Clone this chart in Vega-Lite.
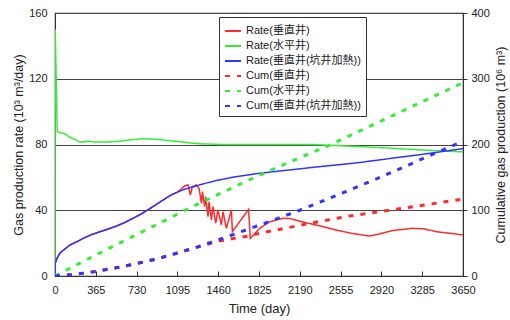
{
  "$schema": "https://vega.github.io/schema/vega-lite/v6.json",
  "width": 408,
  "height": 263,
  "autosize": {"type": "none"},
  "padding": {"left": 55, "top": 13, "right": 47, "bottom": 44},
  "background": "white",
  "config": {
    "font": "Liberation Sans",
    "view": {"stroke": "#333", "strokeWidth": 1.2},
    "axis": {
      "labelFont": "Liberation Sans",
      "labelFontSize": 11,
      "labelColor": "#222",
      "titleFont": "Liberation Sans",
      "titleFontSize": 12.5,
      "titleFontWeight": "normal",
      "titleColor": "#222",
      "domainColor": "#333",
      "tickColor": "#333"
    }
  },
  "datasets": {
    "rate": [
      {"t": 0, "v": 0, "s": "Rate(垂直井)"},
      {"t": 3, "v": 8, "s": "Rate(垂直井)"},
      {"t": 20, "v": 11, "s": "Rate(垂直井)"},
      {"t": 45, "v": 14, "s": "Rate(垂直井)"},
      {"t": 90, "v": 16.5, "s": "Rate(垂直井)"},
      {"t": 134, "v": 18.9, "s": "Rate(垂直井)"},
      {"t": 200, "v": 21, "s": "Rate(垂直井)"},
      {"t": 253, "v": 22.9, "s": "Rate(垂直井)"},
      {"t": 320, "v": 25, "s": "Rate(垂直井)"},
      {"t": 401, "v": 26.9, "s": "Rate(垂直井)"},
      {"t": 480, "v": 28.7, "s": "Rate(垂直井)"},
      {"t": 550, "v": 30.4, "s": "Rate(垂直井)"},
      {"t": 620, "v": 32.4, "s": "Rate(垂直井)"},
      {"t": 698, "v": 35.1, "s": "Rate(垂直井)"},
      {"t": 760, "v": 37.3, "s": "Rate(垂直井)"},
      {"t": 818, "v": 39.7, "s": "Rate(垂直井)"},
      {"t": 890, "v": 42.8, "s": "Rate(垂直井)"},
      {"t": 966, "v": 46.2, "s": "Rate(垂直井)"},
      {"t": 1040, "v": 49.3, "s": "Rate(垂直井)"},
      {"t": 1095, "v": 51, "s": "Rate(垂直井)"},
      {"t": 1161, "v": 54.8, "s": "Rate(垂直井)"},
      {"t": 1190, "v": 55.4, "s": "Rate(垂直井)"},
      {"t": 1211, "v": 49.3, "s": "Rate(垂直井)"},
      {"t": 1229, "v": 54.3, "s": "Rate(垂直井)"},
      {"t": 1265, "v": 55.4, "s": "Rate(垂直井)"},
      {"t": 1289, "v": 53.3, "s": "Rate(垂直井)"},
      {"t": 1310, "v": 44.2, "s": "Rate(垂直井)"},
      {"t": 1319, "v": 51.3, "s": "Rate(垂直井)"},
      {"t": 1339, "v": 42.2, "s": "Rate(垂直井)"},
      {"t": 1348, "v": 48.3, "s": "Rate(垂直井)"},
      {"t": 1369, "v": 36.1, "s": "Rate(垂直井)"},
      {"t": 1378, "v": 45.2, "s": "Rate(垂直井)"},
      {"t": 1399, "v": 34.1, "s": "Rate(垂直井)"},
      {"t": 1414, "v": 42.2, "s": "Rate(垂直井)"},
      {"t": 1438, "v": 32.1, "s": "Rate(垂直井)"},
      {"t": 1458, "v": 40.2, "s": "Rate(垂直井)"},
      {"t": 1488, "v": 31, "s": "Rate(垂直井)"},
      {"t": 1503, "v": 39.1, "s": "Rate(垂直井)"},
      {"t": 1533, "v": 29, "s": "Rate(垂直井)"},
      {"t": 1578, "v": 40.2, "s": "Rate(垂直井)"},
      {"t": 1587, "v": 27, "s": "Rate(垂直井)"},
      {"t": 1732, "v": 40.5, "s": "Rate(垂直井)"},
      {"t": 1747, "v": 22.9, "s": "Rate(垂直井)"},
      {"t": 1790, "v": 26, "s": "Rate(垂直井)"},
      {"t": 1831, "v": 29, "s": "Rate(垂直井)"},
      {"t": 1920, "v": 33, "s": "Rate(垂直井)"},
      {"t": 2039, "v": 35.1, "s": "Rate(垂直井)"},
      {"t": 2100, "v": 35, "s": "Rate(垂直井)"},
      {"t": 2245, "v": 32.4, "s": "Rate(垂直井)"},
      {"t": 2400, "v": 30, "s": "Rate(垂直井)"},
      {"t": 2513, "v": 28, "s": "Rate(垂直井)"},
      {"t": 2650, "v": 26, "s": "Rate(垂直井)"},
      {"t": 2810, "v": 24.3, "s": "Rate(垂直井)"},
      {"t": 2900, "v": 25.5, "s": "Rate(垂直井)"},
      {"t": 3015, "v": 27.6, "s": "Rate(垂直井)"},
      {"t": 3195, "v": 29, "s": "Rate(垂直井)"},
      {"t": 3300, "v": 28.7, "s": "Rate(垂直井)"},
      {"t": 3406, "v": 27, "s": "Rate(垂直井)"},
      {"t": 3530, "v": 26, "s": "Rate(垂直井)"},
      {"t": 3650, "v": 25, "s": "Rate(垂直井)"},

      {"t": 0, "v": 0, "s": "Rate(水平井)"},
      {"t": 2, "v": 150, "s": "Rate(水平井)"},
      {"t": 20, "v": 88, "s": "Rate(水平井)"},
      {"t": 50, "v": 87, "s": "Rate(水平井)"},
      {"t": 90, "v": 86.5, "s": "Rate(水平井)"},
      {"t": 130, "v": 84.5, "s": "Rate(水平井)"},
      {"t": 180, "v": 83, "s": "Rate(水平井)"},
      {"t": 220, "v": 81.5, "s": "Rate(水平井)"},
      {"t": 260, "v": 81.5, "s": "Rate(水平井)"},
      {"t": 300, "v": 82, "s": "Rate(水平井)"},
      {"t": 350, "v": 81.5, "s": "Rate(水平井)"},
      {"t": 450, "v": 81.5, "s": "Rate(水平井)"},
      {"t": 580, "v": 82, "s": "Rate(水平井)"},
      {"t": 700, "v": 83, "s": "Rate(水平井)"},
      {"t": 800, "v": 83.5, "s": "Rate(水平井)"},
      {"t": 900, "v": 83.2, "s": "Rate(水平井)"},
      {"t": 1000, "v": 82.5, "s": "Rate(水平井)"},
      {"t": 1100, "v": 81.8, "s": "Rate(水平井)"},
      {"t": 1200, "v": 81, "s": "Rate(水平井)"},
      {"t": 1300, "v": 80.4, "s": "Rate(水平井)"},
      {"t": 1500, "v": 80, "s": "Rate(水平井)"},
      {"t": 1800, "v": 80, "s": "Rate(水平井)"},
      {"t": 2300, "v": 80, "s": "Rate(水平井)"},
      {"t": 2700, "v": 78.8, "s": "Rate(水平井)"},
      {"t": 3000, "v": 77.8, "s": "Rate(水平井)"},
      {"t": 3300, "v": 76.6, "s": "Rate(水平井)"},
      {"t": 3650, "v": 75.5, "s": "Rate(水平井)"},

      {"t": 0, "v": 0, "s": "Rate(垂直井(坑井加熱))"},
      {"t": 3, "v": 8, "s": "Rate(垂直井(坑井加熱))"},
      {"t": 20, "v": 11, "s": "Rate(垂直井(坑井加熱))"},
      {"t": 45, "v": 14, "s": "Rate(垂直井(坑井加熱))"},
      {"t": 90, "v": 16.5, "s": "Rate(垂直井(坑井加熱))"},
      {"t": 134, "v": 18.9, "s": "Rate(垂直井(坑井加熱))"},
      {"t": 200, "v": 21, "s": "Rate(垂直井(坑井加熱))"},
      {"t": 253, "v": 22.9, "s": "Rate(垂直井(坑井加熱))"},
      {"t": 320, "v": 25, "s": "Rate(垂直井(坑井加熱))"},
      {"t": 401, "v": 26.9, "s": "Rate(垂直井(坑井加熱))"},
      {"t": 480, "v": 28.7, "s": "Rate(垂直井(坑井加熱))"},
      {"t": 550, "v": 30.4, "s": "Rate(垂直井(坑井加熱))"},
      {"t": 620, "v": 32.4, "s": "Rate(垂直井(坑井加熱))"},
      {"t": 698, "v": 35.1, "s": "Rate(垂直井(坑井加熱))"},
      {"t": 760, "v": 37.3, "s": "Rate(垂直井(坑井加熱))"},
      {"t": 818, "v": 39.7, "s": "Rate(垂直井(坑井加熱))"},
      {"t": 890, "v": 42.8, "s": "Rate(垂直井(坑井加熱))"},
      {"t": 966, "v": 46.2, "s": "Rate(垂直井(坑井加熱))"},
      {"t": 1040, "v": 49.3, "s": "Rate(垂直井(坑井加熱))"},
      {"t": 1095, "v": 51, "s": "Rate(垂直井(坑井加熱))"},
      {"t": 1150, "v": 52.6, "s": "Rate(垂直井(坑井加熱))"},
      {"t": 1264, "v": 54.8, "s": "Rate(垂直井(坑井加熱))"},
      {"t": 1350, "v": 56.5, "s": "Rate(垂直井(坑井加熱))"},
      {"t": 1460, "v": 58.3, "s": "Rate(垂直井(坑井加熱))"},
      {"t": 1600, "v": 60.2, "s": "Rate(垂直井(坑井加熱))"},
      {"t": 1829, "v": 62.5, "s": "Rate(垂直井(坑井加熱))"},
      {"t": 2000, "v": 63.8, "s": "Rate(垂直井(坑井加熱))"},
      {"t": 2190, "v": 65.2, "s": "Rate(垂直井(坑井加熱))"},
      {"t": 2335, "v": 66.3, "s": "Rate(垂直井(坑井加熱))"},
      {"t": 2555, "v": 67.8, "s": "Rate(垂直井(坑井加熱))"},
      {"t": 2720, "v": 69, "s": "Rate(垂直井(坑井加熱))"},
      {"t": 2920, "v": 70.8, "s": "Rate(垂直井(坑井加熱))"},
      {"t": 3285, "v": 74, "s": "Rate(垂直井(坑井加熱))"},
      {"t": 3650, "v": 77.5, "s": "Rate(垂直井(坑井加熱))"}
    ],
    "cum": [
      {"t": 0, "v": 0, "s": "Cum(垂直井)"},
      {"t": 182, "v": 2.5, "s": "Cum(垂直井)"},
      {"t": 365, "v": 7, "s": "Cum(垂直井)"},
      {"t": 548, "v": 12.5, "s": "Cum(垂直井)"},
      {"t": 730, "v": 19, "s": "Cum(垂直井)"},
      {"t": 913, "v": 26, "s": "Cum(垂直井)"},
      {"t": 1095, "v": 35, "s": "Cum(垂直井)"},
      {"t": 1265, "v": 43.5, "s": "Cum(垂直井)"},
      {"t": 1460, "v": 53, "s": "Cum(垂直井)"},
      {"t": 1607, "v": 57.3, "s": "Cum(垂直井)"},
      {"t": 1741, "v": 61, "s": "Cum(垂直井)"},
      {"t": 1831, "v": 65, "s": "Cum(垂直井)"},
      {"t": 1950, "v": 69, "s": "Cum(垂直井)"},
      {"t": 2054, "v": 72.5, "s": "Cum(垂直井)"},
      {"t": 2277, "v": 80, "s": "Cum(垂直井)"},
      {"t": 2634, "v": 91.3, "s": "Cum(垂直井)"},
      {"t": 2962, "v": 99.3, "s": "Cum(垂直井)"},
      {"t": 3304, "v": 108, "s": "Cum(垂直井)"},
      {"t": 3650, "v": 117, "s": "Cum(垂直井)"},

      {"t": 0, "v": 0, "s": "Cum(水平井)"},
      {"t": 365, "v": 32, "s": "Cum(水平井)"},
      {"t": 730, "v": 63, "s": "Cum(水平井)"},
      {"t": 1095, "v": 94, "s": "Cum(水平井)"},
      {"t": 1161, "v": 100, "s": "Cum(水平井)"},
      {"t": 1460, "v": 124, "s": "Cum(水平井)"},
      {"t": 1825, "v": 153, "s": "Cum(水平井)"},
      {"t": 2190, "v": 180, "s": "Cum(水平井)"},
      {"t": 2456, "v": 199, "s": "Cum(水平井)"},
      {"t": 2555, "v": 207, "s": "Cum(水平井)"},
      {"t": 2920, "v": 236, "s": "Cum(水平井)"},
      {"t": 3285, "v": 265, "s": "Cum(水平井)"},
      {"t": 3650, "v": 294, "s": "Cum(水平井)"},

      {"t": 0, "v": 0, "s": "Cum(垂直井(坑井加熱))"},
      {"t": 182, "v": 2.5, "s": "Cum(垂直井(坑井加熱))"},
      {"t": 365, "v": 7, "s": "Cum(垂直井(坑井加熱))"},
      {"t": 548, "v": 12.5, "s": "Cum(垂直井(坑井加熱))"},
      {"t": 730, "v": 19, "s": "Cum(垂直井(坑井加熱))"},
      {"t": 913, "v": 26, "s": "Cum(垂直井(坑井加熱))"},
      {"t": 1095, "v": 35, "s": "Cum(垂直井(坑井加熱))"},
      {"t": 1265, "v": 43.6, "s": "Cum(垂直井(坑井加熱))"},
      {"t": 1460, "v": 55, "s": "Cum(垂直井(坑井加熱))"},
      {"t": 1825, "v": 77, "s": "Cum(垂直井(坑井加熱))"},
      {"t": 2190, "v": 100, "s": "Cum(垂直井(坑井加熱))"},
      {"t": 2555, "v": 125, "s": "Cum(垂直井(坑井加熱))"},
      {"t": 2920, "v": 151, "s": "Cum(垂直井(坑井加熱))"},
      {"t": 3285, "v": 178, "s": "Cum(垂直井(坑井加熱))"},
      {"t": 3650, "v": 205, "s": "Cum(垂直井(坑井加熱))"}
    ]
  },
  "layer": [
    {
      "data": {"name": "rate"},
      "mark": {"type": "line", "strokeWidth": 1.5, "clip": true},
      "encoding": {
        "x": {
          "field": "t", "type": "quantitative",
          "scale": {"domain": [0, 3650], "nice": false},
          "axis": {
            "values": [0, 365, 730, 1095, 1460, 1825, 2190, 2555, 2920, 3285, 3650],
            "format": "d", "labelOverlap": false, "labelFlush": false,
            "title": "Time (day)", "grid": false, "tickSize": -5, "labelPadding": 13,
            "titlePadding": 7, "titleFontSize": 13
          }
        },
        "y": {
          "field": "v", "type": "quantitative",
          "scale": {"domain": [0, 160], "nice": false},
          "axis": {
            "values": [0, 40, 80, 120, 160],
            "title": "Gas production rate (10³ m³/day)",
            "grid": true, "gridColor": "#444", "gridWidth": 1.2, "gridOpacity": 1,
            "tickSize": 0, "labelPadding": 8, "titlePadding": 3
          }
        },
        "color": {
          "field": "s", "type": "nominal",
          "scale": {
            "domain": ["Rate(垂直井)", "Rate(水平井)", "Rate(垂直井(坑井加熱))", "Cum(垂直井)", "Cum(水平井)", "Cum(垂直井(坑井加熱))"],
            "range": ["#ff2a2a", "#33ee33", "#3333ff", "#ff2a2a", "#33ee33", "#3333ff"]
          },
          "legend": {
            "title": null, "orient": "none", "legendX": 164, "legendY": 4,
            "fillColor": "white", "strokeColor": "#333", "padding": 5,
            "symbolType": "stroke", "symbolSize": 256, "symbolStrokeWidth": 2,
            "labelFont": "Liberation Sans, Noto Sans CJK JP", "labelFontSize": 11, "labelColor": "#222",
            "rowPadding": 1
          }
        },
        "strokeDash": {
          "field": "s", "type": "nominal",
          "scale": {
            "domain": ["Rate(垂直井)", "Rate(水平井)", "Rate(垂直井(坑井加熱))", "Cum(垂直井)", "Cum(水平井)", "Cum(垂直井(坑井加熱))"],
            "range": [[1, 0], [1, 0], [1, 0], [5, 7], [5, 7], [5, 7]]
          },
          "legend": {
            "title": null, "orient": "none", "legendX": 164, "legendY": 4,
            "fillColor": "white", "strokeColor": "#333", "padding": 5,
            "symbolType": "stroke", "symbolSize": 256, "symbolStrokeWidth": 2,
            "labelFont": "Liberation Sans, Noto Sans CJK JP", "labelFontSize": 11, "labelColor": "#222",
            "rowPadding": 1
          }
        }
      }
    },
    {
      "data": {"name": "cum"},
      "mark": {"type": "line", "strokeWidth": 3, "clip": true},
      "encoding": {
        "x": {"field": "t", "type": "quantitative"},
        "y": {
          "field": "v", "type": "quantitative",
          "scale": {"domain": [0, 400], "nice": false},
          "axis": {
            "orient": "right", "values": [0, 100, 200, 300, 400],
            "title": "Cumulative gas production (10⁶ m³)", "titleAngle": 270,
            "grid": false, "tickSize": 4, "labelPadding": 4, "titlePadding": 18
          }
        },
        "color": {"field": "s", "type": "nominal"},
        "strokeDash": {"field": "s", "type": "nominal"}
      }
    }
  ],
  "resolve": {"scale": {"y": "independent"}}
}
